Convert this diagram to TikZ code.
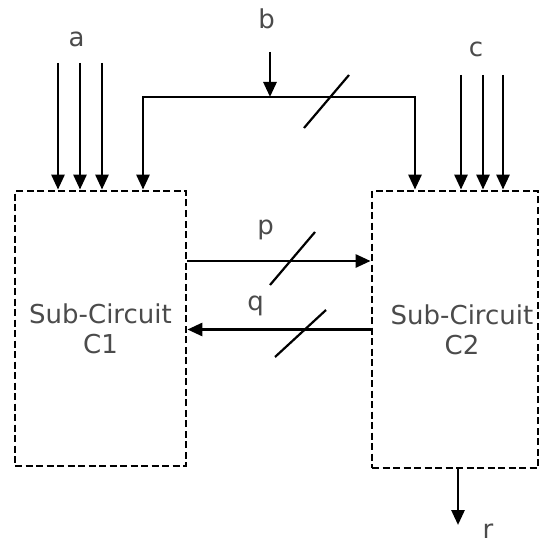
\documentclass[tikz,border=0pt]{standalone}
\usepackage{fontspec}
\setmainfont{DejaVu Sans}
\usetikzlibrary{arrows.meta}
\definecolor{txtgray}{RGB}{75,75,75}

\begin{document}
\begin{tikzpicture}[x=1pt,y=-1pt,
  subckt/.style={draw,dash pattern=on 7pt off 3.5pt,line width=2.8pt,inner sep=0pt,align=center,text=txtgray,font=\fontsize{26}{30}\selectfont},
  wire/.style={line width=2.8pt,-{Triangle[width=13pt,length=15pt]}},
  busmark/.style={line width=2.2pt},
  lbl/.style={text=txtgray,font=\fontsize{26}{30}\selectfont,inner sep=0pt}]
\useasboundingbox (0,0) rectangle (540,545); %page size
\node[subckt,minimum width=171pt,minimum height=275pt] (C1) at (100.5,328.5) {Sub-Circuit\\C1}; %left block
\node[subckt,minimum width=166pt,minimum height=277pt] (C2) at (455,329.5) {\hspace{14pt}Sub-Circuit\\\hspace{14pt}C2}; %right block
\node[lbl] (la) at (76.5,39.5) {a};
\node[lbl] (lb) at (266.5,19) {b};
\node[lbl] (lc) at (476,49) {c};
\node[lbl] (lp) at (265.5,230) {p};
\node[lbl] (lq) at (255.5,306) {q};
\node[lbl,anchor=north] (lr) at (488,524) {r};
\foreach \x/\n in {58/1,80/2,102/3} { %inputs a
  \coordinate (a\n) at (\x,63);
  \draw[wire] (a\n) -- (a\n |- C1.north);
}
\foreach \x/\n in {461/1,483/2,503/3} { %inputs c
  \coordinate (c\n) at (\x,75);
  \draw[wire] (c\n) -- (c\n |- C2.north);
}
\coordinate (bin) at (270,52); %input b
\coordinate (bj) at (270,97);
\coordinate (bL) at (143,97);
\coordinate (bR) at (415,97);
\draw[wire] (bin) -- (bj);
\draw[wire] (bj) -- (bL) -- (bL |- C1.north);
\draw[wire] (bj) -- (bR) -- (bR |- C2.north);
\draw[busmark] (304,128) -- (349,75); %bus slash b
\draw[wire] ([yshift=67.5pt]C1.east) coordinate (pout) -- (pout -| C2.west); %p
\draw[busmark] (270,285) -- (315,232);
\draw[wire] (C2.west) -- (C2.west -| C1.east); %q
\draw[busmark] (275,357) -- (326,310);
\coordinate (rout) at (458,525); %output r
\draw[wire] (rout |- C2.south) -- (rout);
\end{tikzpicture}
\end{document}
